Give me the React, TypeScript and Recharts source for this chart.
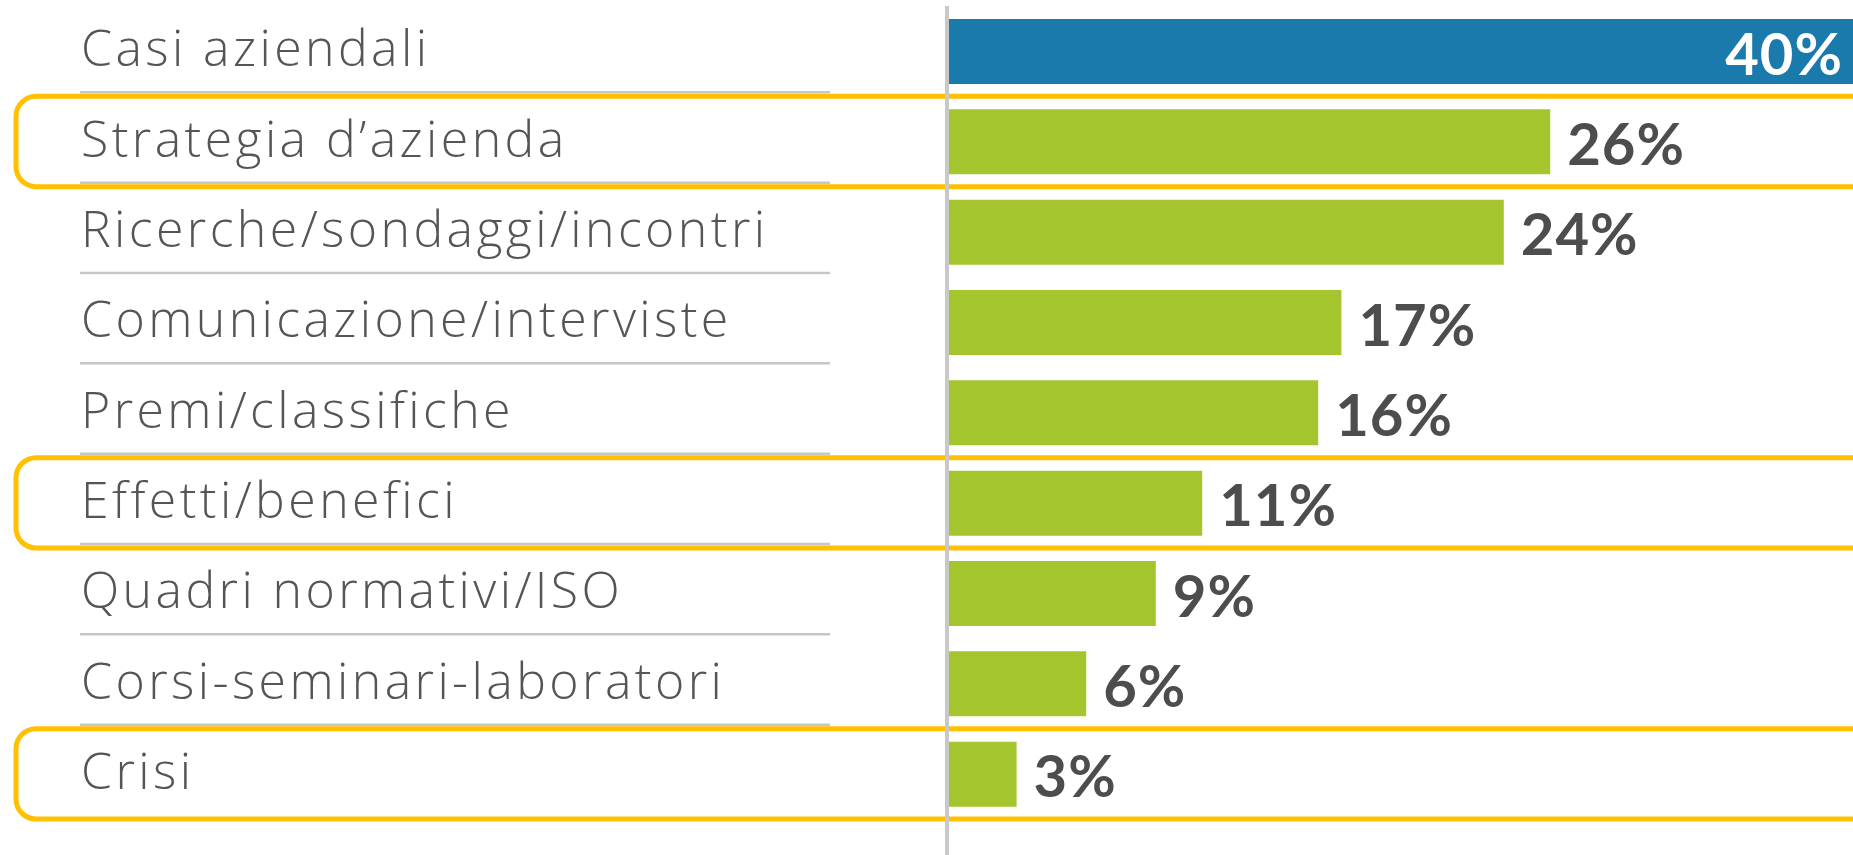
import React from "react";
import { BarChart, Bar, XAxis, YAxis, Cell, LabelList, ReferenceArea } from "recharts";

const categories = [
  "Casi aziendali",
  "Strategia d’azienda",
  "Ricerche/sondaggi/incontri",
  "Comunicazione/interviste",
  "Premi/classifiche",
  "Effetti/benefici",
  "Quadri normativi/ISO",
  "Corsi-seminari-laboratori",
  "Crisi",
];
const shares = [40, 26, 24, 17, 16, 11, 9, 6, 3];
const highlighted = ["Strategia d’azienda", "Effetti/benefici", "Crisi"];

const data = categories.map((name, i) => ({ name, value: shares[i] }));
const maxShare = Math.max(...shares);

const BLUE = "#1a7aab";
const GREEN = "#a5c52f";
const YELLOW = "#ffc000";

function CategoryTick(props: any) {
  const { y, payload, index } = props;
  const half = payload?.offset ?? 45;
  return (
    <g>
      {index > 0 && (
        <line x1={80} x2={830} y1={y - half - 4} y2={y - half - 4} stroke="#c6c6c6" strokeWidth={2.5} />
      )}
      <text
        x={81}
        y={y + 15}
        textAnchor="start"
        fill="#555"
        fontFamily="'Open Sans', sans-serif"
        fontWeight={300}
        fontSize={50}
        letterSpacing={3.4}
      >
        {payload.value}
      </text>
    </g>
  );
}

function ValueLabel(props: any) {
  const { x, y, width, height, value } = props;
  const inside = value === maxShare;
  return (
    <text
      x={inside ? x + width - 32 : x + width + 17}
      y={y + height / 2 + 23}
      textAnchor={inside ? "end" : "start"}
      fill={inside ? "#fff" : "#4d4d4d"}
      fontFamily="Lato, sans-serif"
      fontWeight={700}
      fontSize={58}
      letterSpacing={1}
    >
      {value}%
    </text>
  );
}

function HighlightBox(props: any) {
  const { y, height } = props;
  return (
    <rect x={16} y={y} width={1900} height={height} rx={20} ry={20} fill="none" stroke={YELLOW} strokeWidth={5} />
  );
}

export default function App() {
  return (
    <div style={{ position: "absolute", left: 0, top: 0, width: 1853, height: 855, overflow: "hidden", background: "#fff" }}>
      <BarChart
        width={1875}
        height={855}
        data={data}
        layout="vertical"
        margin={{ top: 6, right: 0, bottom: 0, left: 0 }}
      >
        <XAxis type="number" domain={[0, 40]} hide />
        <YAxis
          type="category"
          dataKey="name"
          width={947}
          padding={{ top: 0, bottom: 36 }}
          axisLine={{ stroke: "#c8c8c8", strokeWidth: 4 }}
          tickLine={false}
          tick={<CategoryTick />}
          interval={0}
        />
        <Bar dataKey="value" barSize={65} isAnimationActive={false}>
          {data.map((d, i) => (
            <Cell key={d.name} fill={d.value === maxShare ? BLUE : GREEN} />
          ))}
          <LabelList dataKey="value" content={<ValueLabel />} />
        </Bar>
        {highlighted.map((name) => (
          <ReferenceArea key={name} y1={name} y2={name} ifOverflow="visible" shape={<HighlightBox />} />
        ))}
      </BarChart>
    </div>
  );
}
